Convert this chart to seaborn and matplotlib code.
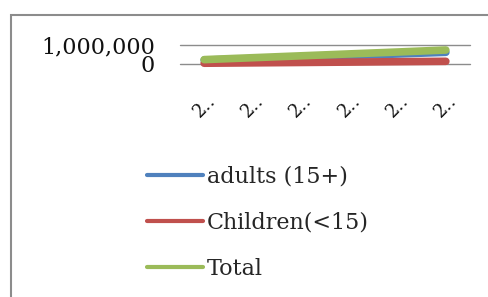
import pandas as pd
import matplotlib
matplotlib.use("Agg")
import matplotlib.pyplot as plt
import matplotlib.patches as patches
import seaborn as sns

# Values (population counts per year)
years = [2005, 2006, 2007, 2008, 2009, 2010]
tick_labels = ["2\u2025", "2\u2025", "2\u2025", "2\u2025", "2\u2025", "2\u2025"]  # truncated in the original
adults = [190000, 270000, 350000, 430000, 510000, 600000]
children = [25000, 45000, 65000, 85000, 105000, 125000]
total = [215000, 315000, 415000, 515000, 615000, 720000]

series_names = ["adults (15+)", "Children(<15)", "Total"]
colors = ["#4F81BD", "#C0504D", "#9BBB59"]


def build_frame():
    """
    Put the three series in one long table for seaborn.
    """
    rows = []
    for name, values in zip(series_names, [adults, children, total]):
        for i, v in enumerate(values):
            rows.append({"pos": i, "year": years[i], "series": name, "value": v})
    return pd.DataFrame(rows)


def main():
    sns.set_style("white")
    plt.rcParams["font.family"] = ["DejaVu Serif", "DejaVu Sans"]

    df = build_frame()

    fig = plt.figure(figsize=(4.89, 2.97), dpi=100)
    ax = fig.add_axes([180 / 489, 1 - 63.7 / 297, 290 / 489, 19 / 297])

    # gridlines first, so the series sit on top
    for yv in [0, 1000000]:
        ax.axhline(yv, color="#8c8c8c", linewidth=1, zorder=0, clip_on=False)

    sns.lineplot(data=df, x="pos", y="value", hue="series", hue_order=series_names,
                 palette=colors, linewidth=5.5, ax=ax, legend=False)
    for line in ax.get_lines()[2:]:
        line.set_clip_on(False)
        line.set_solid_capstyle("round")

    ax.set_xlim(-0.5, 5.5)
    ax.set_ylim(0, 1000000)
    ax.set_yticks([0, 1000000])
    ax.set_yticklabels(["0", "1,000,000"], fontsize=16, color="#111111")
    ax.set_xticks(range(len(years)))
    ax.set_xticklabels(tick_labels, rotation=45, fontsize=13, color="#111111",
                       ha="center", va="top")
    ax.tick_params(axis="y", length=0, pad=18)
    ax.tick_params(axis="x", length=0, pad=20)
    ax.set_xlabel("")
    ax.set_ylabel("")
    for spine in ax.spines.values():
        spine.set_visible(False)

    # Legend below the plot area
    handles = [plt.Line2D([0], [0], color=c, linewidth=3, solid_capstyle="round") for c in colors]
    fig.legend(handles, series_names, loc="upper left", bbox_to_anchor=(147 / 489, 1 - 166 / 297),
               frameon=False, fontsize=16, handlelength=2.5, handletextpad=0.2,
               labelspacing=1.07, borderpad=0, borderaxespad=0)

    # Chart area border (cut off at the right and bottom in the original)
    border = patches.Rectangle((11 / 489, -0.2), 1.2, 1 - 15 / 297 + 0.2, transform=fig.transFigure,
                               fill=False, edgecolor="#8c8c8c", linewidth=1.5, clip_on=False)
    fig.patches.append(border)

    fig.savefig("out.png", dpi=100)
    plt.close(fig)


if __name__ == "__main__":
    main()
